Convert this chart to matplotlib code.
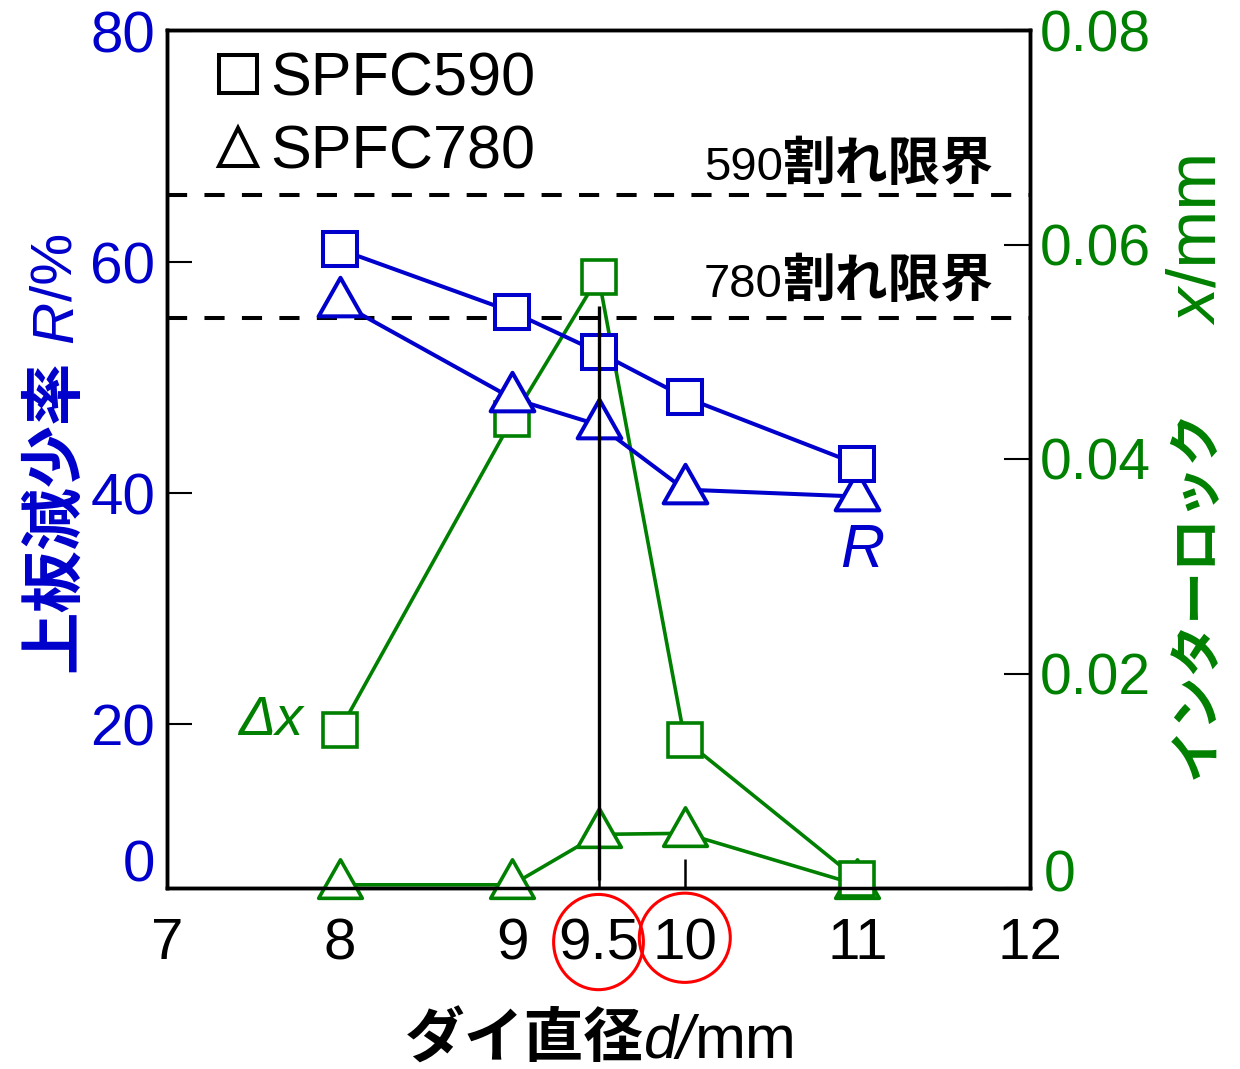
import matplotlib
matplotlib.use('Agg')
import matplotlib.pyplot as plt
from matplotlib.lines import Line2D
from matplotlib.path import Path
from matplotlib.patches import Ellipse
from matplotlib.transforms import IdentityTransform, blended_transform_factory

plt.rcParams['font.family'] = ['Liberation Sans', 'Noto Sans CJK JP']

# die diameter d (mm)
d = [8, 9, 9.5, 10, 11]
# upper plate reduction R (%)
r_590 = [61.1, 55.7, 52.2, 48.3, 42.5]
r_780 = [56.5, 48.2, 45.9, 40.3, 39.7]
# interlock x (mm)
dx_590 = [0.0147, 0.0437, 0.0570, 0.0138, 0.0008]
dx_780 = [0.0003, 0.0003, 0.0050, 0.0051, 0.0003]
# crack limits (%)
limit_590 = 65.8
limit_780 = 55.2
xticks = [7, 8, 9, 9.5, 10, 11, 12]
xtick_labels = ['7', '8', '9', '9.5', '10', '11', '12']
r_ticks = [20, 40, 60, 80]
x_ticks_right = [0, 0.02, 0.04, 0.06, 0.08]
x_tick_labels_right = ['', '0.02', '0.04', '0.06', '0.08']

BLUE = '#0000cc'
GREEN = '#008000'
CJK = 'Noto Sans CJK JP'

# triangle with its centroid on the data point
tri = Path([(0, 2), (-1.7, -1), (1.7, -1), (0, 2)],
           [Path.MOVETO, Path.LINETO, Path.LINETO, Path.CLOSEPOLY])

W, H = 1240, 1069
fig = plt.figure(figsize=(W / 100, H / 100), dpi=100)
ax = fig.add_axes([167 / W, (H - 888) / H, (1030 - 167) / W, (888 - 30) / H])
ax2 = ax.twinx()
ax.set_zorder(ax2.get_zorder() + 1)
ax.patch.set_visible(False)

# interlock (right axis)
ax2.plot(d, dx_780, color=GREEN, lw=2.6, marker=tri, ms=37, mfc='white',
         mec=GREEN, mew=2.6, clip_on=False, zorder=3)
ax2.plot(d, dx_590, color=GREEN, lw=2.6, marker='s', ms=25, mfc='white',
         mec=GREEN, mew=2.6, clip_on=False, zorder=4)

# reduction (left axis)
dash = (0, (5, 4.3))
ax.axhline(limit_590, color='k', lw=2.9, ls=dash, zorder=2)
ax.axhline(limit_780, color='k', lw=2.9, ls=dash, zorder=2)
ax.plot(d, r_780, color=BLUE, lw=2.9, marker=tri, ms=37, mfc='white',
        mec=BLUE, mew=2.9, zorder=4)
ax.plot(d, r_590, color=BLUE, lw=2.9, marker='s', ms=25, mfc='white',
        mec=BLUE, mew=2.9, zorder=5)
ax.vlines(9.5, 6.5, 56.2, color='k', lw=2.4, zorder=6)

ax.set_xlim(7, 12)
ax.set_ylim(5.8, 80.1)
ax2.set_ylim(0, 0.08)
ax.set_xticks(xticks, xtick_labels)
ax.set_yticks(r_ticks)
ax2.set_yticks(x_ticks_right, x_tick_labels_right)
ax.tick_params(axis='x', direction='in', length=21, width=1.8, labelsize=42, pad=21)
ax.tick_params(axis='y', direction='in', length=18, width=1.5, labelsize=42,
               labelcolor=BLUE, pad=8.5)
ax2.tick_params(axis='y', direction='in', length=19, width=1.5, labelsize=41,
                labelcolor=GREEN, pad=7)
# tick marks under the markers are hidden in the original
for t, loc in zip(ax.xaxis.get_major_ticks(), xticks):
    if loc in (8, 9, 11):
        t.tick1line.set_visible(False)
for sp in list(ax.spines.values()) + list(ax2.spines.values()):
    sp.set_linewidth(2.5)

ax.text(-0.014, (888 - 866) / 858, '0', transform=ax.transAxes, ha='right',
        va='center', fontsize=42, color=BLUE)
ax2.text(1 + 14 / 863, (888 - 877) / 858, '0', transform=ax2.transAxes, ha='left',
         va='center', fontsize=41, color=GREEN)

# red circles round 9.5 and 10
tr = blended_transform_factory(ax.transData, ax.transAxes)
for xc, yc, w, h in [(9.5, -0.063, 0.52, 0.111), (10, -0.058, 0.527, 0.104)]:
    ax.add_patch(Ellipse((xc, yc), w, h, transform=tr, fill=False, ec='red',
                         lw=2.2, clip_on=False))

h1 = Line2D([], [], ls='none', marker='s', ms=27, mfc='white', mec='k', mew=2.9)
h2 = Line2D([], [], ls='none', marker='^', ms=28, mfc='white', mec='k', mew=2.9)
ax.legend([h1, h2], ['SPFC590', 'SPFC780'], loc='upper left',
          bbox_to_anchor=(0.054, 0.975), frameon=False, fontsize=44,
          handlelength=0.8, handletextpad=0.12, labelspacing=0.26,
          borderpad=0, borderaxespad=0)

ax.text(11.03, 34.9, 'R', fontsize=44, style='italic', color=BLUE,
        ha='center', va='center', zorder=7)
ax.text(7.6, 20.3, 'Δx', fontsize=40, style='italic', color=GREEN,
        ha='center', va='center', zorder=7)


def chain(parts, x, y, rot=0, color='k'):
    # place text pieces one after another, in pixels from bottom left
    r = fig.canvas.get_renderer()
    for s, size, kw in parts:
        t = fig.text(x, y, s, transform=IdentityTransform(), fontsize=size,
                     color=color, rotation=rot, rotation_mode='anchor',
                     ha='left', va='baseline', **kw)
        bb = t.get_window_extent(r)
        if rot == 0:
            x += bb.width
        else:
            y += bb.height


kanji = dict(family=CJK, weight='bold')
chain([('590', 34, {}), ('割れ限界', 38, kanji)], 704, H - 180)
chain([('780', 34, {}), ('割れ限界', 38, kanji)], 704, H - 297)
chain([('ダイ直径', 43, kanji), ('d/', 44, dict(style='italic')), ('mm', 44, {})],
      405, H - 1058)
chain([('上板減少率', 45, kanji), (' ', 42, {}), ('R', 42, dict(style='italic')),
       ('/%', 42, {})], 72, H - 672, rot=90, color=BLUE)
chain([('インターロック\u3000', 38, kanji), ('  x', 50, dict(style='italic')),
       ('/mm', 50, {})], 1215, H - 782, rot=90, color=GREEN)

fig.savefig('out.png', dpi=100)
